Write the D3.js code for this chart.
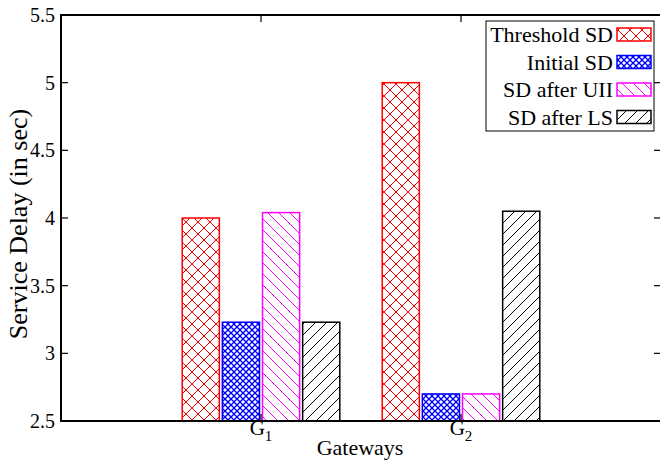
<!DOCTYPE html>
<html>
<head>
<meta charset="utf-8">
<script src="https://cdn.jsdelivr.net/npm/d3@7"></script>
<style>
  body { margin: 0; background: #fff; }
  text { font-family: "Liberation Serif", "Times New Roman", serif; fill: #000; }
</style>
</head>
<body>
<svg id="chart" width="660" height="462"></svg>
<script>
// data
const gateways = ["1", "2"];
const seriesNames = ["Threshold SD", "Initial SD", "SD after UII", "SD after LS"];
const thresholdSD = [4.0, 5.0];
const initialSD = [3.23, 2.70];
const afterUII = [4.04, 2.70];
const afterLS = [3.23, 4.05];
const yTicks = [2.5, 3, 3.5, 4, 4.5, 5, 5.5];

const seriesValues = [thresholdSD, initialSD, afterUII, afterLS];
const colors = ["#ff0000", "#0000ff", "#ff00ff", "#000000"];
const patternIds = ["pRed", "pBlue", "pMag", "pBlack"];

const svg = d3.select("#chart");
const plotL = 61, plotR = 661, plotT = 15, plotB = 421;

const x = d3.scaleLinear().domain([-1, 2]).range([plotL, plotR]);
const y = d3.scaleLinear().domain([2.5, 5.5]).range([plotB, plotT]);
const inner = d3.scaleBand().domain(d3.range(seriesNames.length)).range([-0.4, 0.4]).paddingInner(0.075).paddingOuter(0.03);

// fill patterns
const defs = svg.append("defs");
function pattern(id, size, color, sw, paths) {
  const p = defs.append("pattern")
    .attr("id", id)
    .attr("patternUnits", "userSpaceOnUse")
    .attr("width", size).attr("height", size);
  p.append("rect").attr("width", size).attr("height", size).attr("fill", "#fff");
  paths.forEach(d => p.append("path").attr("d", d)
    .attr("stroke", color).attr("stroke-width", sw).attr("fill", "none"));
}
pattern("pRed", 12, colors[0], 1, ["M0,0L12,12", "M12,0L0,12"]);
pattern("pBlue", 6, colors[1], 1.3, ["M0,0L6,6", "M6,0L0,6"]);
pattern("pMag", 11, colors[2], 1, ["M0,0L11,11", "M-1,10L1,12", "M10,-1L12,1"]);
pattern("pBlack", 11, colors[3], 1, ["M0,11L11,0", "M-1,1L1,-1", "M10,12L12,10"]);

// bars
seriesValues.forEach((vals, si) => {
  svg.append("g").selectAll("rect")
    .data(vals)
    .join("rect")
    .attr("x", (d, gi) => x(gi + inner(si)))
    .attr("width", x(inner.bandwidth()) - x(0))
    .attr("y", d => y(d))
    .attr("height", d => y(2.5) - y(d))
    .attr("fill", "url(#" + patternIds[si] + ")")
    .attr("stroke", colors[si])
    .attr("stroke-width", 1.5);
});

// frame
svg.append("rect")
  .attr("x", plotL).attr("y", plotT)
  .attr("width", plotR - plotL).attr("height", plotB - plotT)
  .attr("fill", "none").attr("stroke", "#000").attr("stroke-width", 2);

// y ticks
const yg = svg.append("g");
yTicks.forEach(t => {
  yg.append("line").attr("x1", plotL).attr("x2", plotL + 7)
    .attr("y1", y(t)).attr("y2", y(t)).attr("stroke", "#000").attr("stroke-width", 1.2);
  yg.append("line").attr("x1", plotR - 7).attr("x2", plotR)
    .attr("y1", y(t)).attr("y2", y(t)).attr("stroke", "#000").attr("stroke-width", 1.2);
  yg.append("text")
    .attr("x", plotL - 6).attr("y", y(t)).attr("dy", "0.35em")
    .attr("text-anchor", "end")
    .style("font-size", "20px")
    .text(t);
});

// x ticks
gateways.forEach((g, i) => {
  svg.append("line").attr("x1", x(i)).attr("x2", x(i))
    .attr("y1", plotB).attr("y2", plotB - 7).attr("stroke", "#000").attr("stroke-width", 1.2);
  svg.append("line").attr("x1", x(i)).attr("x2", x(i))
    .attr("y1", plotT).attr("y2", plotT + 7).attr("stroke", "#000").attr("stroke-width", 1.2);
  const t = svg.append("text")
    .attr("x", x(i)).attr("y", 435)
    .attr("text-anchor", "middle")
    .style("font-size", "21px");
  t.append("tspan").text("G");
  t.append("tspan").attr("dy", 6).style("font-size", "15px").text(g);
});

// axis titles
svg.append("text")
  .attr("x", 360).attr("y", 455)
  .attr("text-anchor", "middle")
  .style("font-size", "22px")
  .text("Gateways");

svg.append("text")
  .attr("transform", "translate(27,224) rotate(-90)")
  .attr("text-anchor", "middle")
  .style("font-size", "26px")
  .text("Service Delay (in sec)");

// legend
const lg = svg.append("g");
lg.append("rect")
  .attr("x", 486).attr("y", 21).attr("width", 168).attr("height", 110)
  .attr("fill", "#fff").attr("stroke", "#000").attr("stroke-width", 1);
const rowY = d3.scaleLinear().domain([0, 3]).range([34.5, 117]);
seriesNames.forEach((name, i) => {
  lg.append("text")
    .attr("x", 613).attr("y", rowY(i)).attr("dy", "0.35em")
    .attr("text-anchor", "end")
    .style("font-size", "22px")
    .text(name);
  lg.append("rect")
    .attr("x", 617).attr("y", rowY(i) - 6.5)
    .attr("width", 34).attr("height", 13)
    .attr("fill", "url(#" + patternIds[i] + ")")
    .attr("stroke", colors[i]).attr("stroke-width", 1.5);
});
</script>
</body>
</html>
